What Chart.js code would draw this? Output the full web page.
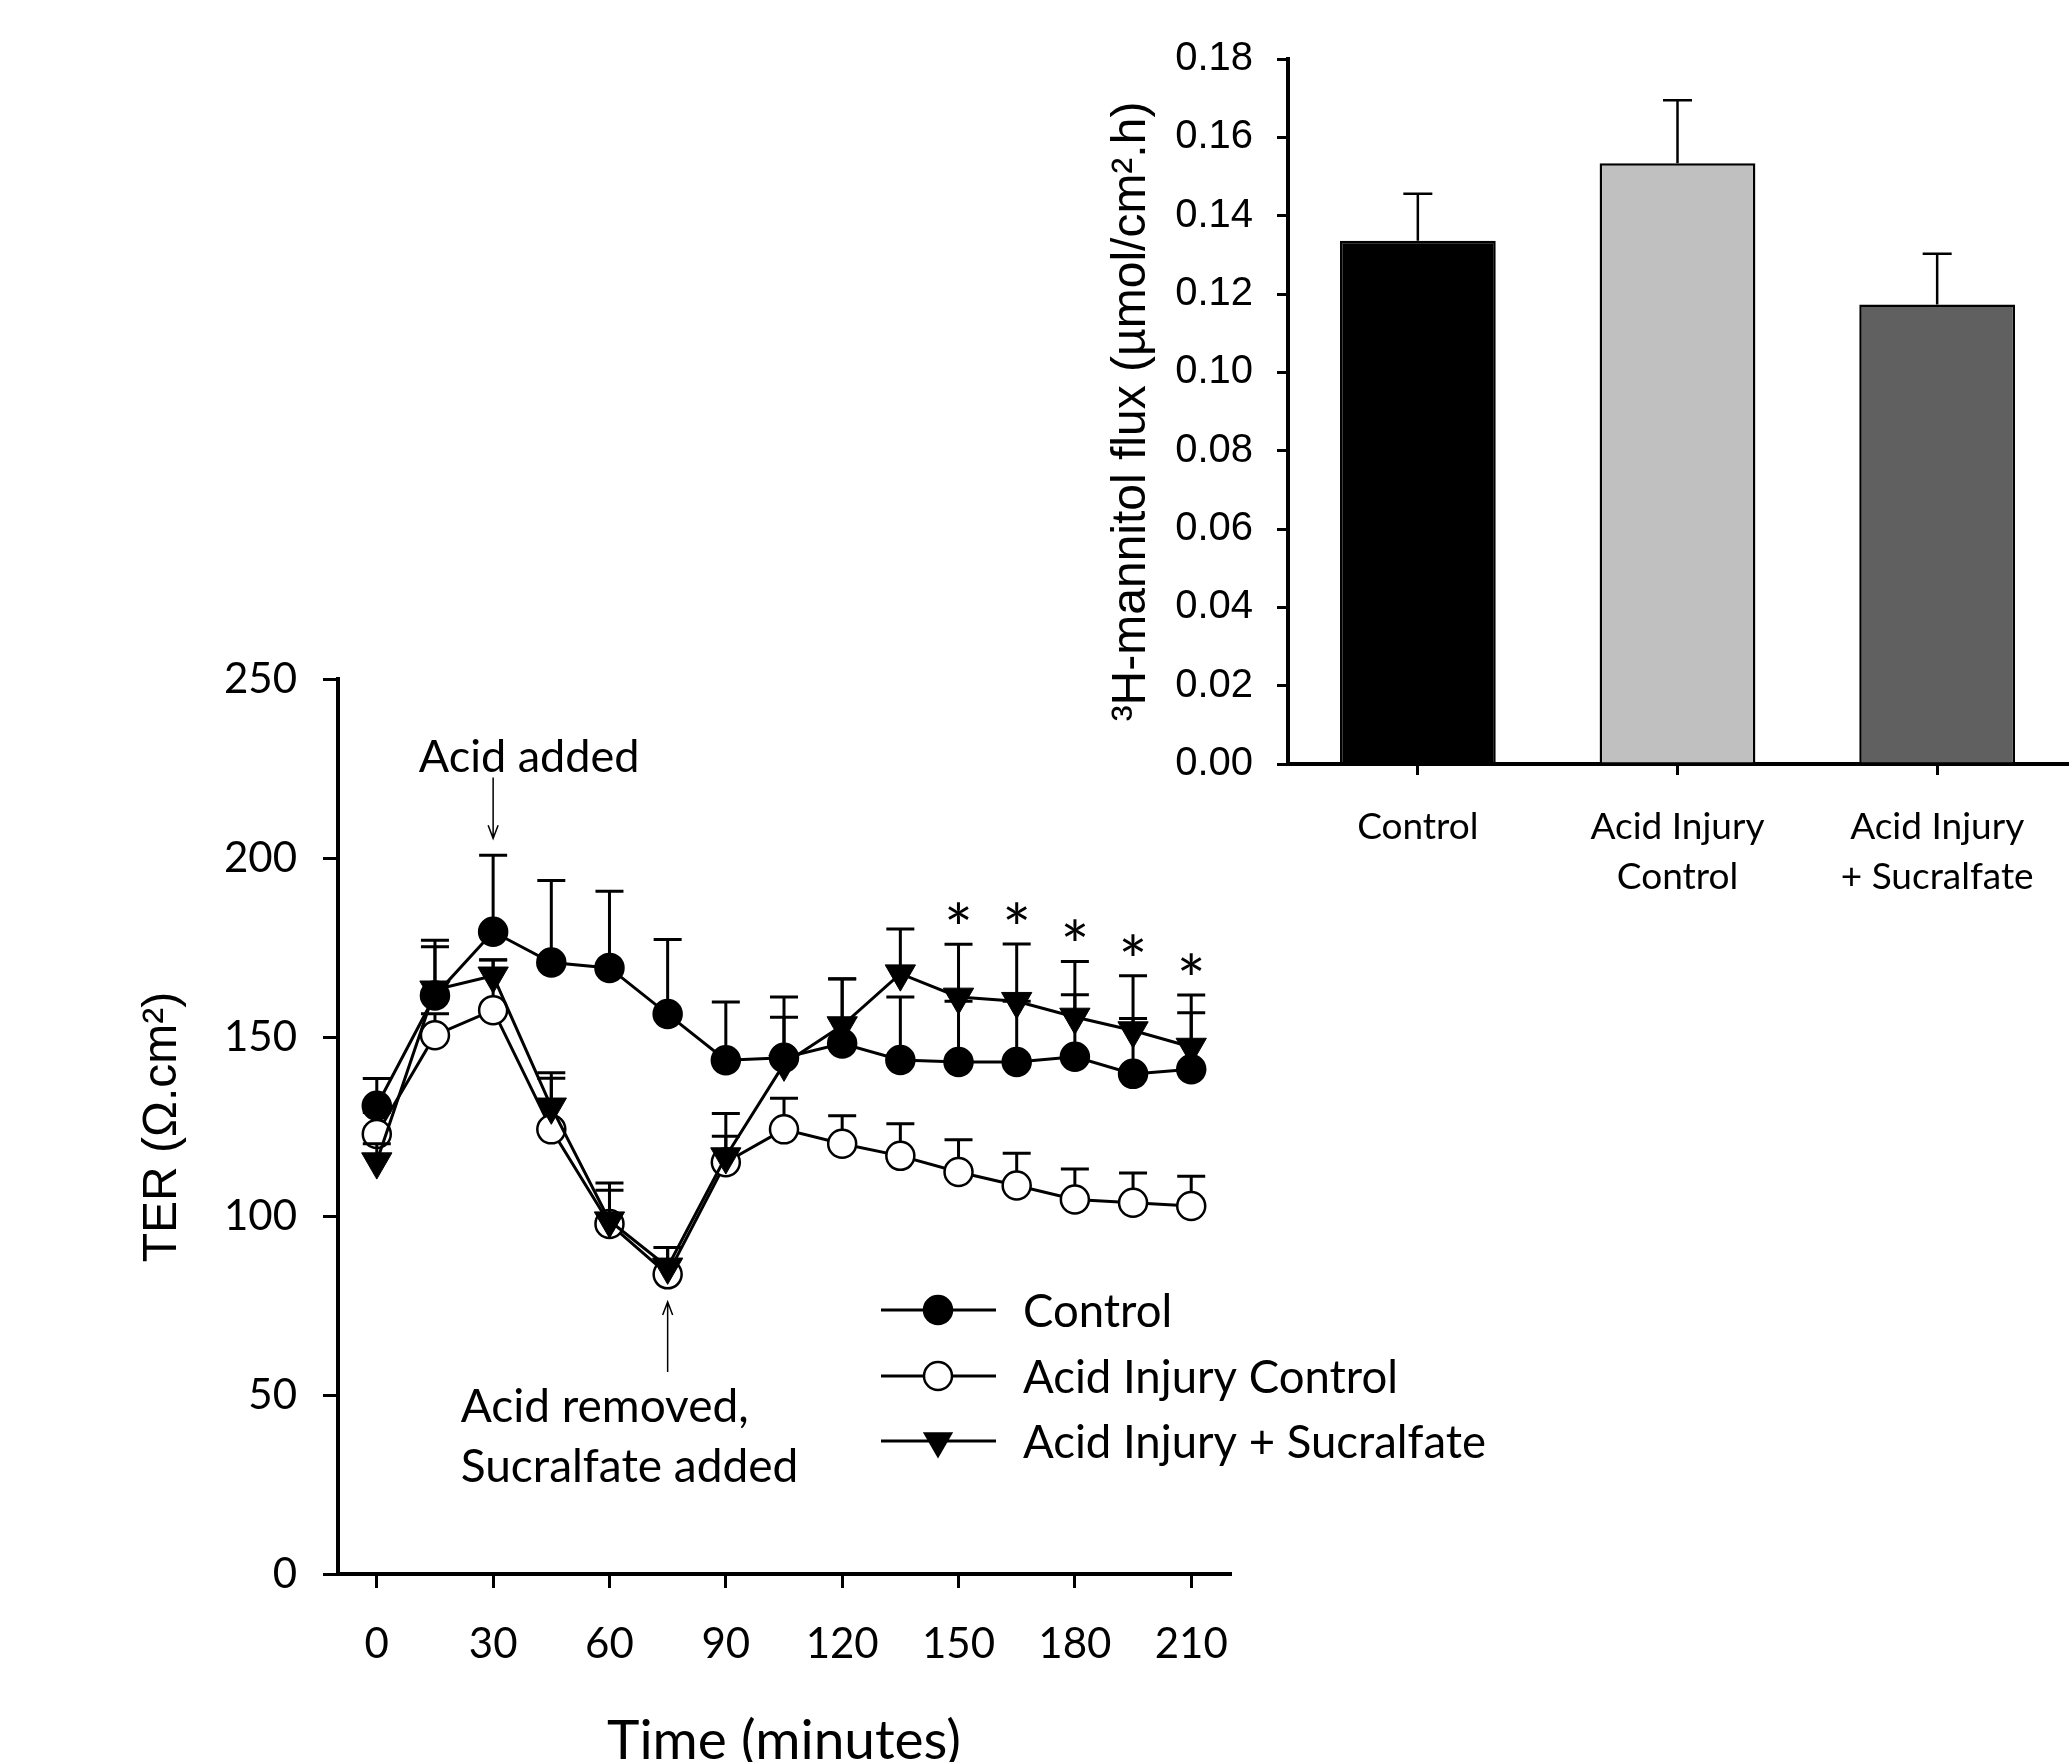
<!DOCTYPE html>
<html><head><meta charset="utf-8">
<script src="https://cdn.jsdelivr.net/npm/chart.js@4.4.1/dist/chart.umd.min.js"></script>
<style>
html,body{margin:0;padding:0;background:#fff;width:2069px;height:1762px;overflow:hidden;position:relative}
canvas{position:absolute}
#line{left:0;top:600px}
#bar{left:1080px;top:0}
</style></head><body>
<canvas id="line" width="1500" height="1162"></canvas>
<canvas id="bar" width="989" height="920"></canvas>
<script>
// ---------- DATA ----------
const times = [0,15,30,45,60,75,90,105,120,135,150,165,180,195,210];
const controlTER = [130.8,161.6,179.4,170.8,169.3,156.4,143.5,144.2,148.2,143.6,143.0,143.0,144.5,139.7,141.0];
const controlSEM = [7.6,15.4,21.4,22.9,21.4,20.8,16.3,17.0,18.1,17.6,17.0,17.0,17.3,15.5,15.8];
const acidTER = [122.9,150.5,157.5,124.2,97.8,83.7,115.0,124.2,120.2,116.8,112.3,108.5,104.6,103.7,102.8];
const acidSEM = [6.0,6.0,14.0,14.3,9.4,7.5,7.3,8.7,7.8,9.0,9.0,9.0,8.5,8.3,8.3];
const sucTER = [115.2,163.2,167.1,130.5,98.7,85.8,116.6,142.5,153.2,167.7,161.2,160.0,155.6,151.8,147.2];
const sucSEM = [5.0,12.0,4.5,9.5,10.5,5.4,12.0,13.0,13.0,12.5,14.7,16.0,15.5,15.3,14.5];
const sigTimes = [150,165,180,195,210];
const seriesNames = ['Control','Acid Injury Control','Acid Injury + Sucralfate'];
const xTickVals = [0,30,60,90,120,150,180,210];
const yTickVals = [0,50,100,150,200,250];

const barCategories = [['Control'],['Acid Injury','Control'],['Acid Injury','+ Sucralfate']];
const barFlux = [0.1336,0.1534,0.1173];
const barSEM = [0.0120,0.0161,0.0130];
const barYTickVals = [0,0.02,0.04,0.06,0.08,0.10,0.12,0.14,0.16,0.18];

// ---------- STYLE ----------
const LATO = 'Lato';
const ARIAL = '"Liberation Sans", Arial, sans-serif';
const barColors = ['#000000','#c0c0c0','#606060'];

function drawTextCapCentered(ctx, str, x, yc, font, align){
  ctx.font = font; ctx.textAlign = align || 'center'; ctx.textBaseline = 'alphabetic';
  const capH = ctx.measureText('H').actualBoundingBoxAscent;
  ctx.fillText(str, x, yc + capH/2);
}
function drawMarker(ctx, style, x, y){
  ctx.save();
  ctx.strokeStyle = '#000'; ctx.lineWidth = 2.5;
  if (style === 'filled') { ctx.fillStyle = '#000'; ctx.beginPath(); ctx.arc(x,y,14,0,Math.PI*2); ctx.fill(); ctx.stroke(); }
  else if (style === 'open') { ctx.fillStyle = '#fff'; ctx.beginPath(); ctx.arc(x,y,14,0,Math.PI*2); ctx.fill(); ctx.stroke(); }
  else { const r = 17.5; ctx.fillStyle = '#000'; ctx.beginPath();
    for (let k=0;k<3;k++){ const a = Math.PI + k*2*Math.PI/3; const px = x + Math.sin(a)*r, py = y - Math.cos(a)*r; k?ctx.lineTo(px,py):ctx.moveTo(px,py);} 
    ctx.closePath(); ctx.fill(); }
  ctx.restore();
}

const mk = vals => times.map((t,i)=>({x:t, y:vals[i]}));

const lineErrPlugin = {
  id:'lineErr',
  beforeDatasetDraw(chart, args){
    const ds = chart.data.datasets[args.index];
    const ctx = chart.ctx, ys = chart.scales.y;
    ctx.save(); ctx.strokeStyle='#000'; ctx.lineWidth=3;
    args.meta.data.forEach((pt,i)=>{
      const top = ys.getPixelForValue(ds.data[i].y + ds.sem[i]);
      ctx.beginPath(); ctx.moveTo(pt.x, pt.y); ctx.lineTo(pt.x, top);
      ctx.moveTo(pt.x-14, top); ctx.lineTo(pt.x+14, top); ctx.stroke();
    });
    ctx.restore();
  }
};

const lineDecor = {
  id:'lineDecor',
  afterDraw(chart){
    const ctx = chart.ctx, xs = chart.scales.x, ys = chart.scales.y, ca = chart.chartArea;
    ctx.save(); ctx.fillStyle = '#000'; ctx.strokeStyle = '#000';
    // axis titles
    ctx.save(); ctx.translate(159, 527); ctx.rotate(-Math.PI/2);
    drawTextCapCentered(ctx, 'TER (\u03A9.cm\u00B2)', 0, 0, '48px ' + ARIAL, 'center');
    ctx.restore();
    drawTextCapCentered(ctx, 'Time (minutes)', (xs.getPixelForValue(0)+xs.getPixelForValue(210))/2, 1139, '55px ' + LATO, 'center');
    // annotations
    const x30 = xs.getPixelForValue(30), x75 = xs.getPixelForValue(75);
    drawTextCapCentered(ctx, 'Acid added', x30 + 36, ys.getPixelForValue(228.5), '45px ' + LATO, 'center');
    ctx.lineWidth = 1.5;
    let a0 = ys.getPixelForValue(222.5), a1 = ys.getPixelForValue(205.5);
    ctx.beginPath(); ctx.moveTo(x30, a0); ctx.lineTo(x30, a1);
    ctx.moveTo(x30-5, a1-13); ctx.lineTo(x30, a1); ctx.lineTo(x30+5, a1-13); ctx.stroke();
    drawTextCapCentered(ctx, 'Acid removed,', x75 - 207, ys.getPixelForValue(47.2), '46px ' + LATO, 'left');
    drawTextCapCentered(ctx, 'Sucralfate added', x75 - 207, ys.getPixelForValue(30.2), '46px ' + LATO, 'left');
    a0 = ys.getPixelForValue(56.4); a1 = ys.getPixelForValue(76);
    ctx.beginPath(); ctx.moveTo(x75, a0); ctx.lineTo(x75, a1);
    ctx.moveTo(x75-5, a1+13); ctx.lineTo(x75, a1); ctx.lineTo(x75+5, a1+13); ctx.stroke();
    // significance asterisks
    ctx.font = '68px ' + LATO; ctx.textAlign='center'; ctx.textBaseline='alphabetic';
    const m = ctx.measureText('*');
    sigTimes.forEach(t=>{
      const i = times.indexOf(t);
      const cap = ys.getPixelForValue(sucTER[i] + sucSEM[i]);
      const yc = cap - 31;
      ctx.fillText('*', xs.getPixelForValue(t), yc + (m.actualBoundingBoxAscent - m.actualBoundingBoxDescent)/2);
    });
    // legend
    const styles = ['filled','open','tri'];
    const lx0 = ca.left + 543, lx1 = ca.left + 658, lmk = ca.left + 600, ltx = ca.left + 685;
    const rows = [ca.top + 631, ca.top + 697, ca.top + 762];
    rows.forEach((ry,k)=>{
      ctx.lineWidth = 3; ctx.beginPath(); ctx.moveTo(lx0, ry); ctx.lineTo(lx1, ry); ctx.stroke();
      drawMarker(ctx, styles[k], lmk, ry);
      ctx.fillStyle = '#000';
      drawTextCapCentered(ctx, seriesNames[k], ltx, ry, '45.5px ' + LATO, 'left');
    });
    ctx.restore();
  }
};

const barErrPlugin = {
  id:'barErr',
  afterDatasetsDraw(chart){
    const ctx = chart.ctx, ys = chart.scales.y;
    const ds = chart.data.datasets[0];
    const meta = chart.getDatasetMeta(0);
    ctx.save(); ctx.strokeStyle='#000'; ctx.lineWidth=2.5;
    meta.data.forEach((b,i)=>{
      const top = ys.getPixelForValue(ds.data[i] + ds.sem[i]);
      ctx.beginPath(); ctx.moveTo(b.x, b.y); ctx.lineTo(b.x, top);
      ctx.moveTo(b.x-14.5, top); ctx.lineTo(b.x+14.5, top); ctx.stroke();
    });
    ctx.restore();
  },
  afterDraw(chart){
    const ctx = chart.ctx, ca = chart.chartArea;
    ctx.save(); ctx.fillStyle='#000';
    ctx.translate(48, (ca.top+ca.bottom)/2); ctx.rotate(-Math.PI/2);
    drawTextCapCentered(ctx, '\u00B3H-mannitol flux (\u00B5mol/cm\u00B2.h)', 0, 0, '48px ' + ARIAL, 'center');
    ctx.restore();
  }
};

function axisCommon(tickLen){
  return {
    grid:{display:true, drawOnChartArea:false, drawTicks:true, tickLength:tickLen, color:'#000', lineWidth:3},
    border:{display:true, color:'#000', width:4}
  };
}

function build(){
  Chart.defaults.font.family = LATO;
  Chart.defaults.color = '#000';
  new Chart(document.getElementById('line'), {
    type:'line',
    data:{datasets:[
      {label:seriesNames[0], data:mk(controlTER), sem:controlSEM, borderColor:'#000', borderWidth:3, pointStyle:'circle', pointRadius:14, pointBorderWidth:2.5, pointBackgroundColor:'#000', pointBorderColor:'#000', order:0},
      {label:seriesNames[1], data:mk(acidTER), sem:acidSEM, borderColor:'#000', borderWidth:3, pointStyle:'circle', pointRadius:14, pointBorderWidth:2.5, pointBackgroundColor:'#fff', pointBorderColor:'#000', order:2},
      {label:seriesNames[2], data:mk(sucTER), sem:sucSEM, borderColor:'#000', borderWidth:3, pointStyle:'triangle', pointRotation:180, pointRadius:17.5, pointBorderWidth:1, pointBackgroundColor:'#000', pointBorderColor:'#000', order:1}
    ]},
    options:{
      responsive:false, animation:false,
      layout:{padding:{left:0, top:79, right:270, bottom:0}},
      plugins:{legend:{display:false}, tooltip:{enabled:false}},
      scales:{
        x:Object.assign({type:'linear', min:-10, max:220,
          afterBuildTicks:s=>{ s.ticks = xTickVals.map(v=>({value:v})); },
          afterFit:s=>{ s.height = 188; },
          ticks:{color:'#000', font:{family:LATO, size:42}, padding:31, maxRotation:0, autoSkip:false}
        }, axisCommon(14)),
        y:Object.assign({type:'linear', min:0, max:250,
          afterBuildTicks:s=>{ s.ticks = yTickVals.map(v=>({value:v})); },
          afterFit:s=>{ s.width = 338; },
          ticks:{color:'#000', font:{family:LATO, size:42}, padding:26}
        }, axisCommon(15))
      }
    },
    plugins:[lineErrPlugin, lineDecor]
  });

  new Chart(document.getElementById('bar'), {
    type:'bar',
    data:{labels:barCategories, datasets:[{data:barFlux, sem:barSEM, backgroundColor:barColors, borderColor:'#000', borderWidth:2.5, borderSkipped:'bottom', barPercentage:0.6, categoryPercentage:1}]},
    options:{
      responsive:false, animation:false,
      layout:{padding:{left:0, top:59, right:2, bottom:0}},
      plugins:{legend:{display:false}, tooltip:{enabled:false}},
      scales:{
        x:Object.assign({type:'category', offset:true,
          afterFit:s=>{ s.height = 156; },
          ticks:{color:'#000', font:{family:LATO, size:37, lineHeight:1.35}, padding:27, maxRotation:0, autoSkip:false}
        }, {grid:{display:true, offset:false, drawOnChartArea:false, drawTicks:true, tickLength:11, color:'#000', lineWidth:3}, border:{display:true, color:'#000', width:4}}),
        y:Object.assign({type:'linear', min:0, max:0.18,
          afterBuildTicks:s=>{ s.ticks = barYTickVals.map(v=>({value:v})); },
          afterFit:s=>{ s.width = 208; },
          ticks:{color:'#000', font:{family:ARIAL, size:40}, padding:24, callback:v=>Number(v).toFixed(2)}
        }, {grid:{display:true, drawOnChartArea:false, drawTicks:true, tickLength:11, color:'#000', lineWidth:3}, border:{display:true, color:'#000', width:4}})
      }
    },
    plugins:[barErrPlugin]
  });
}

Promise.all([
  document.fonts.load('42px Lato'),
  document.fonts.load('42px "Liberation Sans"')
]).catch(()=>{}).then(build);
</script></body></html>
